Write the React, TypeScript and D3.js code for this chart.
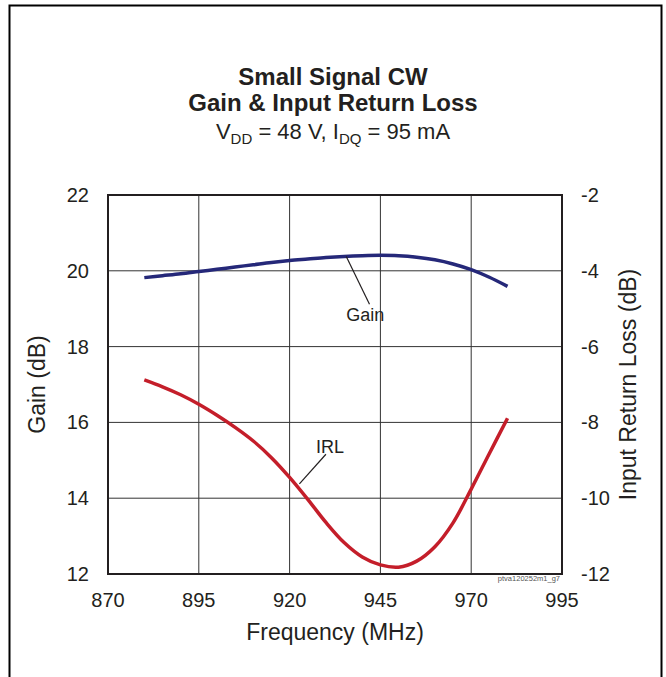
import React from 'react';
import * as d3 from 'd3';

// Frequency (MHz) points
const freqs = [880, 885, 890, 895, 900, 905, 910, 915, 920, 925, 930, 935, 940, 945, 950, 955, 960, 965, 970, 975, 980];
// Gain (dB), left axis
const gain = [19.82, 19.87, 19.92, 19.98, 20.04, 20.1, 20.16, 20.22, 20.27, 20.31, 20.35, 20.38, 20.4, 20.41, 20.4, 20.36, 20.29, 20.18, 20.03, 19.83, 19.59];
// Input return loss (dB), right axis
const irl = [-6.88, -7.06, -7.27, -7.52, -7.81, -8.13, -8.49, -8.93, -9.45, -10.03, -10.64, -11.17, -11.55, -11.76, -11.82, -11.66, -11.28, -10.65, -9.76, -8.82, -7.89];

const xTicks = [870, 895, 920, 945, 970, 995];
const gainTicks = [12, 14, 16, 18, 20, 22];
const irlTicks = [-12, -10, -8, -6, -4, -2];

const W = 666;
const H = 677;
const margin = { left: 108, right: 104, top: 195, bottom: 103 };
const FONT = '"Liberation Sans", Arial, sans-serif';
const INK = '#231f20';

const App: React.FC = () => {
    const x = d3.scaleLinear().domain([870, 995]).range([margin.left, W - margin.right]);
    const yL = d3.scaleLinear().domain([12, 22]).range([H - margin.bottom, margin.top]);
    const yR = d3.scaleLinear().domain([-12, -2]).range([H - margin.bottom, margin.top]);

    const gainLine = d3.line<number>()
        .x((_, i) => x(freqs[i]))
        .y(d => yL(d))
        .curve(d3.curveCatmullRom);
    const irlLine = d3.line<number>()
        .x((_, i) => x(freqs[i]))
        .y(d => yR(d))
        .curve(d3.curveCatmullRom);

    const x0 = x(870), x1 = x(995);
    const y0 = yL(12), y1 = yL(22);
    const cx = (x0 + x1) / 2;
    const cy = (y0 + y1) / 2;

    return (
        <svg width={W} height={H} style={{ position: 'absolute', left: 0, top: 0 }} fontFamily={FONT}>
            <rect x={0} y={0} width={W} height={H} fill="#fff" />
            <rect x={9.5} y={5.5} width={652} height={700} fill="none" stroke="#000" strokeWidth={2} />

            {/* titles */}
            <text x={333} y={85} textAnchor="middle" fontSize={24} fontWeight="bold" fill={INK}>Small Signal CW</text>
            <text x={333} y={111} textAnchor="middle" fontSize={24} fontWeight="bold" fill={INK}>Gain &amp; Input Return Loss</text>
            <text x={333} y={139} textAnchor="middle" fontSize={22} fill={INK}>
                V<tspan fontSize={15} dy={5}>DD</tspan><tspan dy={-5}> = 48 V, I</tspan><tspan fontSize={15} dy={5}>DQ</tspan><tspan dy={-5}> = 95 mA</tspan>
            </text>

            {/* grid */}
            {xTicks.slice(1, -1).map(t => (
                <line key={'gx' + t} x1={x(t)} x2={x(t)} y1={y1} y2={y0} stroke="#333" strokeWidth={1} />
            ))}
            {gainTicks.slice(1, -1).map(t => (
                <line key={'gy' + t} x1={x0} x2={x1} y1={yL(t)} y2={yL(t)} stroke="#333" strokeWidth={1} />
            ))}
            <rect x={x0} y={y1} width={x1 - x0} height={y0 - y1} fill="none" stroke={INK} strokeWidth={2} />

            {/* tick labels */}
            {xTicks.map(t => (
                <text key={'xl' + t} x={x(t)} y={y0 + 33} textAnchor="middle" fontSize={20} fill={INK}>{t}</text>
            ))}
            {gainTicks.map(t => (
                <text key={'yl' + t} x={x0 - 19} y={yL(t) + 7} textAnchor="end" fontSize={20} fill={INK}>{t}</text>
            ))}
            {irlTicks.map(t => (
                <text key={'yr' + t} x={x1 + 19} y={yR(t) + 7} textAnchor="start" fontSize={20} fill={INK}>{t}</text>
            ))}

            {/* axis titles */}
            <text x={cx} y={640} textAnchor="middle" fontSize={23} fill={INK}>Frequency (MHz)</text>
            <text transform={`translate(45,${cy}) rotate(-90)`} textAnchor="middle" fontSize={23} fill={INK}>Gain (dB)</text>
            <text transform={`translate(636,${cy}) rotate(-90)`} textAnchor="middle" fontSize={23} fill={INK}>Input Return Loss (dB)</text>

            {/* curves */}
            <path d={gainLine(gain) ?? ''} fill="none" stroke="#252879" strokeWidth={3.5} />
            <path d={irlLine(irl) ?? ''} fill="none" stroke="#c41e2a" strokeWidth={3.5} />

            {/* annotations */}
            <line x1={x(935.6)} y1={yL(20.38)} x2={x(942)} y2={yL(19.12)} stroke={INK} strokeWidth={1.2} />
            <text x={x(940.8)} y={yL(18.67)} textAnchor="middle" fontSize={18} fill={INK}>Gain</text>
            <line x1={x(930)} y1={yL(15.16)} x2={x(922.7)} y2={yL(14.38)} stroke={INK} strokeWidth={1.2} />
            <text x={x(927.3)} y={yL(15.19)} textAnchor="start" fontSize={18} fill={INK}>IRL</text>

            <text x={x1 - 2} y={y0 + 7} textAnchor="end" fontSize={7.5} fill="#555">ptva120252m1_g7</text>
        </svg>
    );
};

export default App;
